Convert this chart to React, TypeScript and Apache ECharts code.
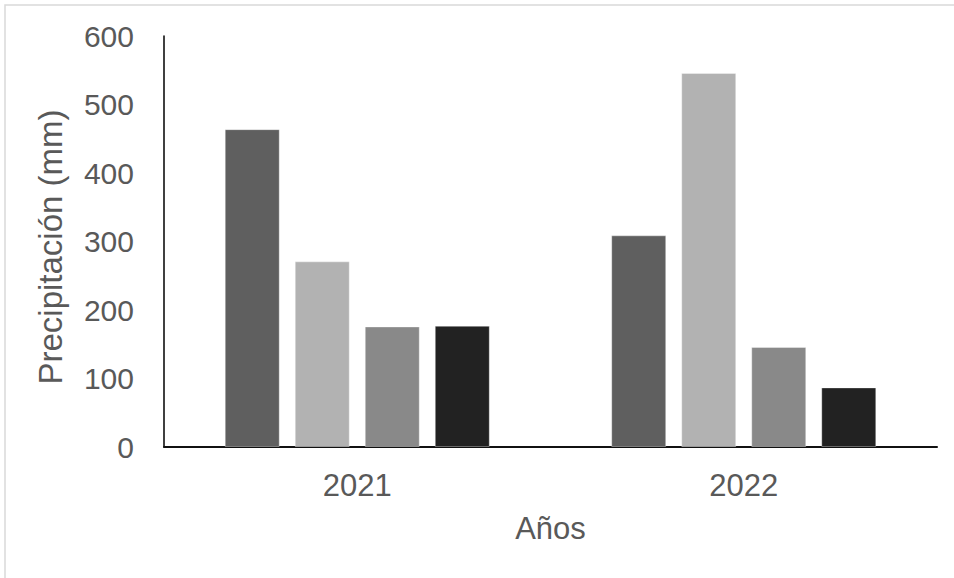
import { useEffect, useRef } from "react";
import * as echarts from "echarts";

// Annual precipitation per station group (mm)
const years = ["2021", "2022"];
const serie1 = [464, 309];
const serie2 = [271, 546];
const serie3 = [176, 146];
const serie4 = [177, 87];
const seriesNames = ["Serie 1", "Serie 2", "Serie 3", "Serie 4"];
const barColors = ["#5f5f5f", "#b2b2b2", "#898989", "#222222"];

const yMin = 0;
const yMax = 600;
const yStep = 100;

const yTitle = "Precipitación (mm)";
const xTitle = "Años";

const textColor = "#595959";
const fontFamily = "'Liberation Sans', Arial, sans-serif";

export default function App() {
  const ref = useRef<HTMLDivElement>(null);

  useEffect(() => {
    if (!ref.current) return;
    const chart = echarts.init(ref.current, undefined, { renderer: "svg" });
    const values = [serie1, serie2, serie3, serie4];

    chart.setOption({
      animation: false,
      backgroundColor: "#ffffff",
      grid: { left: 164, top: 36, right: 17, bottom: 131, containLabel: false },
      graphic: [
        {
          type: "rect",
          shape: { x: 5, y: 5, width: 1000, height: 1000 },
          style: { fill: "none", stroke: "#d9d9d9", lineWidth: 1.5 },
          silent: true,
        },
        {
          type: "text",
          x: 50,
          y: 247,
          rotation: Math.PI / 2,
          silent: true,
          style: {
            text: yTitle,
            fill: textColor,
            fontSize: 33,
            fontFamily,
            align: "center",
            verticalAlign: "middle",
          },
        },
      ],
      xAxis: {
        type: "category",
        data: years,
        name: xTitle,
        nameLocation: "middle",
        nameGap: 66,
        nameTextStyle: { color: textColor, fontSize: 31, fontFamily },
        axisLine: { show: true, lineStyle: { color: "#111111", width: 2 } },
        axisTick: { show: false },
        axisLabel: { color: textColor, fontSize: 31, fontFamily, margin: 23 },
        splitLine: { show: false },
      },
      yAxis: {
        type: "value",
        min: yMin,
        max: yMax,
        interval: yStep,
        axisLine: { show: true, lineStyle: { color: "#000000", width: 1.5 } },
        axisTick: { show: false },
        axisLabel: { color: textColor, fontSize: 30, fontFamily, margin: 30 },
        splitLine: { show: false },
      },
      series: values.map((data, i) => ({
        name: seriesNames[i],
        type: "bar",
        data,
        barWidth: 55,
        barGap: "27.3%",
        itemStyle: {
          color: barColors[i],
          borderColor: "rgba(255,255,255,0.35)",
          borderWidth: 1,
        },
      })),
    });

    return () => chart.dispose();
  }, []);

  return (
    <div
      ref={ref}
      style={{ position: "fixed", left: 0, top: 0, width: 954, height: 578 }}
    />
  );
}
